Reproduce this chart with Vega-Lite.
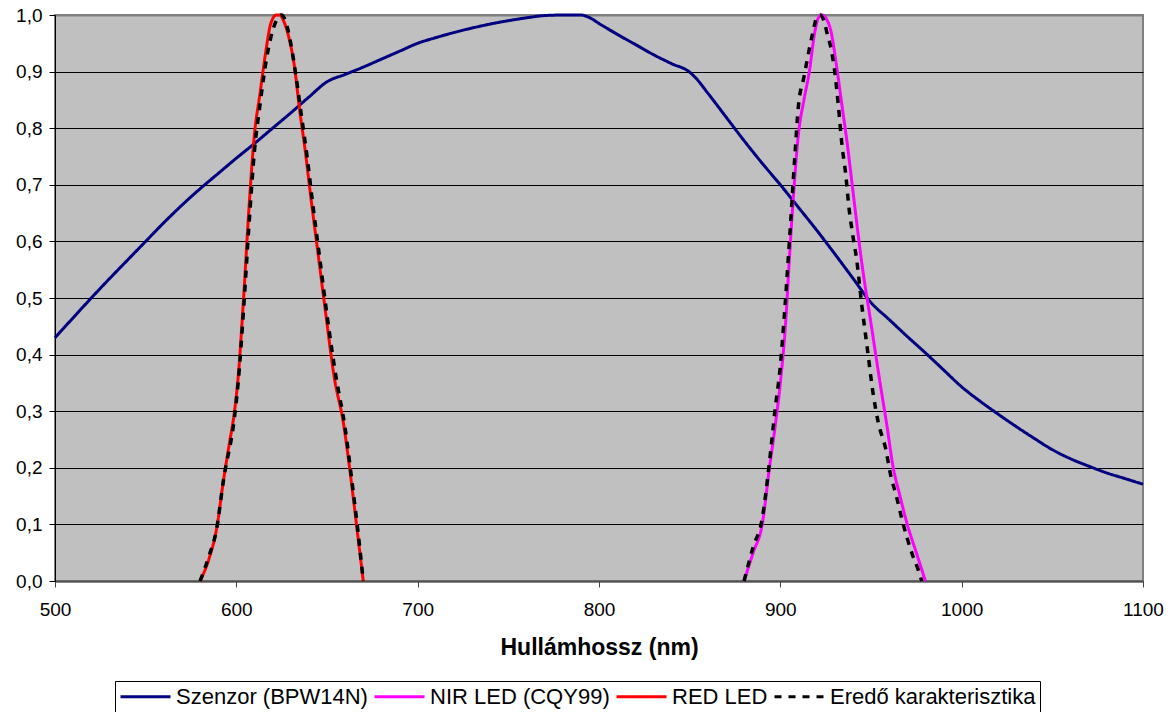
{
  "$schema": "https://vega.github.io/schema/vega-lite/v6.json",
  "width": 1088,
  "height": 566,
  "autosize": {"type": "none"},
  "padding": {"left": 55, "top": 15, "right": 30, "bottom": 131},
  "background": "white",
  "config": {
    "font": "Liberation Sans",
    "view": {"fill": "#C0C0C0", "stroke": "#808080", "strokeWidth": 2}
  },
  "datasets": {
    "sensor": [
      {"nm":500,"v":0.43},{"nm":510,"v":0.465},{"nm":520,"v":0.5},{"nm":530,"v":0.534},{"nm":540,"v":0.567},
      {"nm":550,"v":0.6},{"nm":560,"v":0.633},{"nm":570,"v":0.664},{"nm":580,"v":0.693},{"nm":590,"v":0.72},
      {"nm":600,"v":0.747},{"nm":610,"v":0.773},{"nm":620,"v":0.8},{"nm":630,"v":0.827},{"nm":640,"v":0.855},
      {"nm":650,"v":0.882},{"nm":660,"v":0.895},{"nm":670,"v":0.908},{"nm":680,"v":0.922},{"nm":690,"v":0.936},
      {"nm":700,"v":0.95},{"nm":710,"v":0.96},{"nm":720,"v":0.969},{"nm":730,"v":0.977},{"nm":740,"v":0.984},
      {"nm":750,"v":0.99},{"nm":760,"v":0.995},{"nm":770,"v":0.999},{"nm":780,"v":1.0},{"nm":790,"v":1.0},
      {"nm":795,"v":0.995},{"nm":800,"v":0.985},{"nm":810,"v":0.966},{"nm":820,"v":0.948},{"nm":830,"v":0.93},
      {"nm":840,"v":0.914},{"nm":850,"v":0.899},{"nm":853,"v":0.89},{"nm":860,"v":0.862},{"nm":870,"v":0.82},
      {"nm":880,"v":0.778},{"nm":890,"v":0.738},{"nm":900,"v":0.7},{"nm":910,"v":0.66},{"nm":920,"v":0.62},
      {"nm":930,"v":0.578},{"nm":940,"v":0.535},{"nm":950,"v":0.492},{"nm":960,"v":0.462},{"nm":970,"v":0.432},
      {"nm":980,"v":0.403},{"nm":990,"v":0.373},{"nm":1000,"v":0.343},{"nm":1010,"v":0.318},{"nm":1020,"v":0.295},
      {"nm":1030,"v":0.273},{"nm":1040,"v":0.252},{"nm":1050,"v":0.232},{"nm":1060,"v":0.216},{"nm":1070,"v":0.203},
      {"nm":1080,"v":0.191},{"nm":1090,"v":0.181},{"nm":1100,"v":0.171}
    ],
    "nir": [
      {"nm":880,"v":0},{"nm":885,"v":0.05},{"nm":890,"v":0.1},{"nm":894,"v":0.2},{"nm":897,"v":0.27},
      {"nm":900,"v":0.35},{"nm":903,"v":0.46},{"nm":905,"v":0.57},{"nm":907,"v":0.67},{"nm":910,"v":0.79},
      {"nm":913,"v":0.85},{"nm":916,"v":0.9},{"nm":919,"v":0.97},{"nm":921,"v":0.995},{"nm":923,"v":1.0},
      {"nm":925,"v":0.995},{"nm":928,"v":0.97},{"nm":931,"v":0.91},{"nm":934,"v":0.84},{"nm":937,"v":0.77},
      {"nm":940,"v":0.69},{"nm":945,"v":0.56},{"nm":950,"v":0.455},{"nm":955,"v":0.35},{"nm":959,"v":0.27},
      {"nm":962,"v":0.205},{"nm":966,"v":0.15},{"nm":970,"v":0.1},{"nm":975,"v":0.05},{"nm":980,"v":0}
    ],
    "red": [
      {"nm":580,"v":0},{"nm":585,"v":0.04},{"nm":589,"v":0.09},{"nm":593,"v":0.18},{"nm":596,"v":0.24},
      {"nm":599,"v":0.3},{"nm":601,"v":0.36},{"nm":604,"v":0.5},{"nm":607,"v":0.66},{"nm":610,"v":0.79},
      {"nm":613,"v":0.86},{"nm":616,"v":0.93},{"nm":619,"v":0.985},{"nm":622,"v":1.0},{"nm":624,"v":1.0},
      {"nm":626,"v":0.99},{"nm":629,"v":0.96},{"nm":632,"v":0.91},{"nm":635,"v":0.83},{"nm":638,"v":0.76},
      {"nm":641,"v":0.68},{"nm":645,"v":0.58},{"nm":649,"v":0.48},{"nm":654,"v":0.36},{"nm":659,"v":0.28},
      {"nm":664,"v":0.16},{"nm":667,"v":0.08},{"nm":670,"v":0}
    ],
    "ered_red": [
      {"nm":580,"v":0},{"nm":585,"v":0.045},{"nm":589,"v":0.09},{"nm":593,"v":0.18},{"nm":599,"v":0.29},
      {"nm":601,"v":0.35},{"nm":604,"v":0.48},{"nm":607,"v":0.63},{"nm":610,"v":0.76},{"nm":613,"v":0.84},
      {"nm":616,"v":0.91},{"nm":619,"v":0.96},{"nm":622,"v":0.99},{"nm":625,"v":1.0},{"nm":627,"v":0.99},
      {"nm":630,"v":0.95},{"nm":633,"v":0.89},{"nm":636,"v":0.82},{"nm":639,"v":0.75},{"nm":642,"v":0.67},
      {"nm":646,"v":0.57},{"nm":650,"v":0.47},{"nm":655,"v":0.36},{"nm":660,"v":0.27},{"nm":664,"v":0.17},
      {"nm":667,"v":0.09},{"nm":670,"v":0}
    ],
    "ered_nir": [
      {"nm":880,"v":0},{"nm":885,"v":0.06},{"nm":890,"v":0.11},{"nm":894,"v":0.21},{"nm":897,"v":0.3},
      {"nm":900,"v":0.38},{"nm":902,"v":0.46},{"nm":905,"v":0.6},{"nm":908,"v":0.75},{"nm":910,"v":0.84},
      {"nm":913,"v":0.89},{"nm":916,"v":0.94},{"nm":918,"v":0.97},{"nm":920,"v":0.995},{"nm":922,"v":1.0},
      {"nm":924,"v":0.99},{"nm":926,"v":0.965},{"nm":928,"v":0.94},{"nm":930,"v":0.9},{"nm":932,"v":0.84},
      {"nm":934,"v":0.77},{"nm":936,"v":0.72},{"nm":938,"v":0.655},{"nm":940,"v":0.61},{"nm":942,"v":0.57},
      {"nm":945,"v":0.485},{"nm":948,"v":0.41},{"nm":951,"v":0.335},{"nm":954,"v":0.28},{"nm":958,"v":0.235},
      {"nm":961,"v":0.185},{"nm":964,"v":0.15},{"nm":967,"v":0.11},{"nm":970,"v":0.075},{"nm":973,"v":0.045},
      {"nm":976,"v":0.02},{"nm":978,"v":0}
    ]
  },
  "encoding": {
    "x": {
      "field": "nm", "type": "quantitative",
      "scale": {"domain": [500, 1100], "nice": false, "zero": false},
      "axis": {
        "title": "Hullámhossz (nm)", "titleFontSize": 23, "titleFontWeight": "bold", "titleColor": "black",
        "titlePadding": 17,
        "values": [500, 600, 700, 800, 900, 1000, 1100], "format": "d",
        "grid": false, "labelFontSize": 19, "labelColor": "black", "labelPadding": 13,
        "tickSize": 6, "tickColor": "#404040", "domainColor": "#505050", "domainWidth": 2,
        "labelFlush": false
      }
    },
    "y": {
      "field": "v", "type": "quantitative",
      "scale": {"domain": [0, 1], "nice": false},
      "axis": {
        "title": null,
        "values": [0, 0.1, 0.2, 0.3, 0.4, 0.5, 0.6, 0.7, 0.8, 0.9, 1.0],
        "labelExpr": "replace(format(datum.value, '.1f'), '.', ',')",
        "labelFontSize": 19, "labelColor": "black", "labelPadding": 7,
        "tickSize": 6, "tickColor": "black", "domainColor": "black", "domainWidth": 1,
        "grid": true,
        "gridColor": {"condition": {"test": "datum.value >= 1 || datum.value <= 0", "value": "#808080"}, "value": "black"},
        "gridWidth": {"condition": {"test": "datum.value >= 1 || datum.value <= 0", "value": 2}, "value": 1},
        "labelFlush": false
      }
    },
    "color": {
      "field": "series", "type": "nominal",
      "scale": {
        "domain": ["Szenzor (BPW14N)", "NIR LED (CQY99)", "RED LED", "Eredő karakterisztika"],
        "range": ["#000080", "#FF00FF", "#FF0000", "#000000"]
      },
      "legend": {
        "title": null, "orient": "none", "legendX": 60, "legendY": 666, "direction": "horizontal",
        "symbolType": "M-2.5,0H2.5", "symbolSize": 400, "symbolStrokeWidth": 3, "symbolOffset": 15,
        "labelFontSize": 22, "labelColor": "black", "labelOffset": 19, "columnPadding": 0,
        "strokeColor": "black", "padding": 4, "fillColor": "white", "labelLimit": 400
      }
    },
    "strokeDash": {
      "field": "series", "type": "nominal",
      "scale": {
        "domain": ["Szenzor (BPW14N)", "NIR LED (CQY99)", "RED LED", "Eredő karakterisztika"],
        "range": [[1, 0], [1, 0], [1, 0], [7, 7]]
      },
      "legend": null
    },
    "detail": {"field": "seg", "type": "nominal"}
  },
  "layer": [
    {
      "data": {"name": "sensor"},
      "transform": [{"calculate": "'Szenzor (BPW14N)'", "as": "series"}, {"calculate": "'s'", "as": "seg"}],
      "mark": {"type": "line", "strokeWidth": 3, "interpolate": "monotone"}
    },
    {
      "data": {"name": "nir"},
      "transform": [{"calculate": "'NIR LED (CQY99)'", "as": "series"}, {"calculate": "'n'", "as": "seg"}],
      "mark": {"type": "line", "strokeWidth": 3, "interpolate": "monotone"}
    },
    {
      "data": {"name": "red"},
      "transform": [{"calculate": "'RED LED'", "as": "series"}, {"calculate": "'r'", "as": "seg"}],
      "mark": {"type": "line", "strokeWidth": 3, "interpolate": "monotone"}
    },
    {
      "data": {"name": "ered_red"},
      "transform": [{"calculate": "'Eredő karakterisztika'", "as": "series"}, {"calculate": "'e1'", "as": "seg"}],
      "mark": {"type": "line", "strokeWidth": 3.5, "interpolate": "monotone"}
    },
    {
      "data": {"name": "ered_nir"},
      "transform": [{"calculate": "'Eredő karakterisztika'", "as": "series"}, {"calculate": "'e2'", "as": "seg"}],
      "mark": {"type": "line", "strokeWidth": 3.5, "interpolate": "monotone"}
    }
  ]
}
